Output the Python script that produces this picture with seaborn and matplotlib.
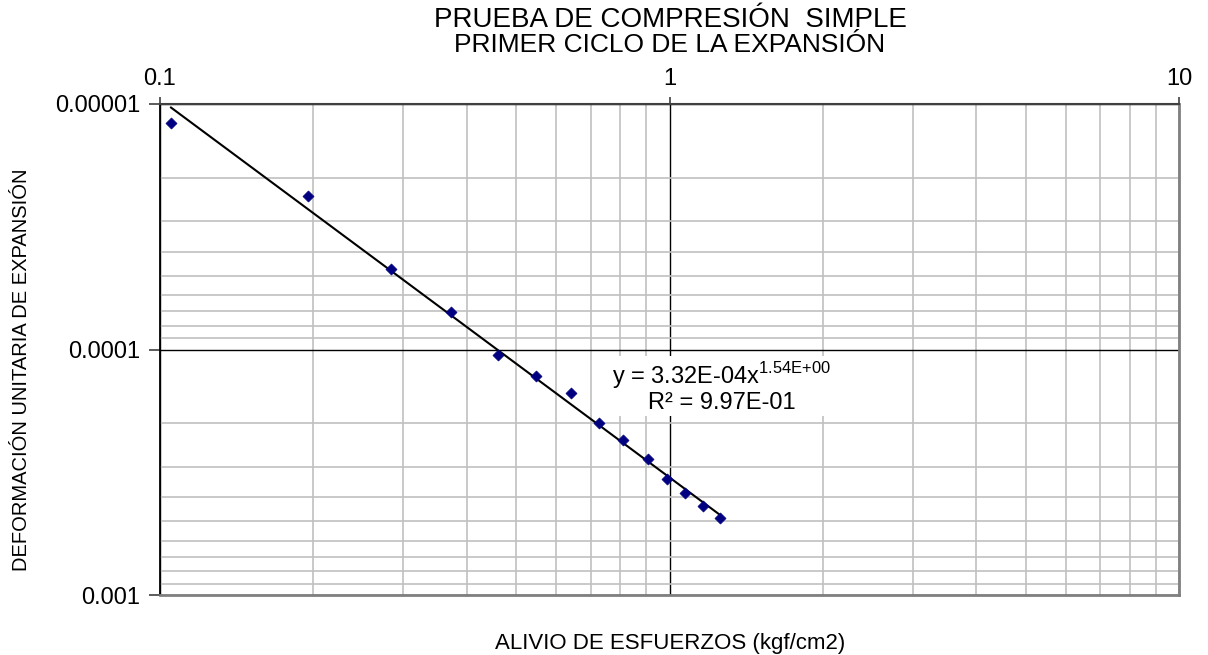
import numpy as np
import pandas as pd
import matplotlib
matplotlib.use("Agg")
import matplotlib.pyplot as plt
from matplotlib.ticker import FixedLocator, NullFormatter, LogLocator
import seaborn as sns

# data
alivio = [0.105, 0.195, 0.284, 0.372, 0.460, 0.548, 0.640, 0.726, 0.812, 0.906, 0.991, 1.074, 1.166, 1.259]
deformacion = [1.19e-5, 2.36e-5, 4.71e-5, 7.04e-5, 1.05e-4, 1.28e-4, 1.51e-4, 1.99e-4,
               2.33e-4, 2.78e-4, 3.38e-4, 3.83e-4, 4.32e-4, 4.86e-4]

# power trend line from the label
coef_a = 3.32e-4
coef_b = 1.54
r2_label = "9.97E-01"

x_ticks = [0.1, 1, 10]
x_labels = ["0.1", "1", "10"]
y_ticks = [1e-5, 1e-4, 1e-3]
y_labels = ["0.00001", "0.0001", "0.001"]

sns.set_theme(style="white")
plt.rcParams['font.family'] = ['Liberation Sans', 'DejaVu Sans']
plt.rcParams['text.color'] = 'black'
plt.rcParams['xtick.color'] = 'black'
plt.rcParams['ytick.color'] = 'black'

df = pd.DataFrame({"x": alivio, "y": deformacion})
xf = np.geomspace(min(alivio), max(alivio), 100)
trend = pd.DataFrame({"x": xf, "y": coef_a * xf ** coef_b})

fig = plt.figure(figsize=(12.08, 6.55), dpi=100)
ax = fig.add_axes([160 / 1208, 1 - 595 / 655, (1179 - 160) / 1208, (595 - 104) / 655])

ax.set_xscale("log")
ax.set_yscale("log")
ax.set_xlim(0.1, 10)
ax.set_ylim(1e-3, 1e-5)

# grid: minor grey, major black
ax.xaxis.set_minor_locator(LogLocator(base=10, subs=np.arange(2, 10)))
ax.yaxis.set_minor_locator(LogLocator(base=10, subs=np.arange(2, 10)))
ax.grid(True, which="minor", color="#c0c0c0", linewidth=1.2)
ax.grid(True, which="major", color="black", linewidth=1.0)
ax.set_axisbelow(True)

sns.lineplot(data=trend, x="x", y="y", ax=ax, color="black", linewidth=1.5, zorder=3)
sns.scatterplot(data=df, x="x", y="y", ax=ax, marker="D", color="#000080",
                s=32, edgecolor="#000080", zorder=4)

ax.xaxis.tick_top()
ax.xaxis.set_major_locator(FixedLocator(x_ticks))
ax.set_xticklabels(x_labels)
ax.xaxis.set_minor_formatter(NullFormatter())
ax.yaxis.set_major_locator(FixedLocator(y_ticks))
ax.set_yticklabels(y_labels)
ax.yaxis.set_minor_formatter(NullFormatter())
ax.tick_params(axis="x", which="major", direction="out", length=5, width=1.2,
               labelsize=17, pad=5, top=True, bottom=False, color="#404040")
ax.tick_params(axis="y", which="major", direction="out", length=8, width=1.2,
               labelsize=17, pad=6, left=True, color="#404040")
ax.tick_params(which="minor", length=0)
ax.set_xlabel("")
ax.set_ylabel("")

ax.spines["left"].set_color("black")
ax.spines["left"].set_linewidth(1.3)
ax.spines["top"].set_color("#404040")
ax.spines["top"].set_linewidth(1.5)
ax.spines["right"].set_color("#808080")
ax.spines["right"].set_linewidth(2)
ax.spines["bottom"].set_color("#808080")
ax.spines["bottom"].set_linewidth(2)

# trend line label
label = ("y = 3.32E-04x$^{\\mathregular{1.54E{+}00}}$\n"
         "R² = " + r2_label)
ax.text(1.265, 1.42e-4, label, fontsize=17, ha="center", va="center",
        multialignment="center", linespacing=1.05, zorder=5,
        bbox=dict(facecolor="white", edgecolor="none", pad=1.5))

fig.text(670 / 1208, 1 - 20 / 655, "PRUEBA DE COMPRESIÓN  SIMPLE", fontsize=20,
         ha="center", va="center")
fig.text(670 / 1208, 1 - 45 / 655, "PRIMER CICLO DE LA EXPANSIÓN", fontsize=19,
         ha="center", va="center")
fig.text(670 / 1208, 1 - 643 / 655, "ALIVIO DE ESFUERZOS (kgf/cm2)", fontsize=16,
         ha="center", va="center")
fig.text(22 / 1208, 1 - 370 / 655, "DEFORMACIÓN UNITARIA DE EXPANSIÓN", fontsize=14.5,
         ha="center", va="center", rotation=90)

fig.savefig("out.png", dpi=100)
